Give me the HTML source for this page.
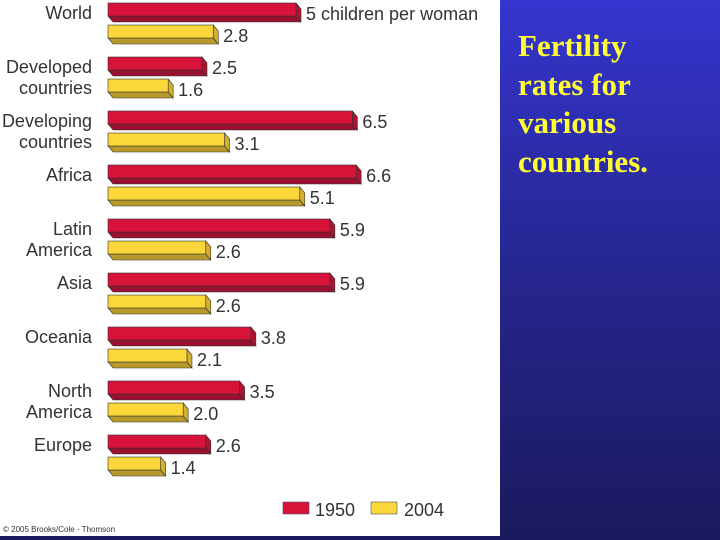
<!DOCTYPE html>
<html><head><meta charset="utf-8"><style>
body{margin:0;width:720px;height:540px;overflow:hidden;background:linear-gradient(#3535cf,#262690 50%,#1a1a5e);font-family:"Liberation Sans",sans-serif}
#panel{position:absolute;left:0;top:0;width:500px;height:536px;background:#fff}
#bottom{position:absolute;left:0;top:536px;width:720px;height:4px;background:#1a1a5e}
#title{position:absolute;left:518px;top:27px;font-family:"Liberation Serif",serif;font-weight:bold;font-size:31px;line-height:38.5px;color:#ffff33}
</style></head><body>
<div id="panel"></div>
<div id="bottom"></div>
<div id="title">Fertility<br>rates for<br>various<br>countries.</div>
<svg id="chart" width="500" height="536" style="position:absolute;left:0;top:0"></svg>
<script>
const categories=[["World"],["Developed","countries"],["Developing","countries"],["Africa"],["Latin","America"],["Asia"],["Oceania"],["North","America"],["Europe"]];
const values1950=[5.0,2.5,6.5,6.6,5.9,5.9,3.8,3.5,2.6];
const values2004=[2.8,1.6,3.1,5.1,2.6,2.6,2.1,2.0,1.4];
const labels1950=["5 children per woman","2.5","6.5","6.6","5.9","5.9","3.8","3.5","2.6"];
const labels2004=["2.8","1.6","3.1","5.1","2.6","2.6","2.1","2.0","1.4"];
const svg=document.getElementById('chart');const NS="http://www.w3.org/2000/svg";
const x0=108,k=37.6;const xs=v=>x0+v*k;const ys=i=>3+i*54;
function el(t,a,p){const e=document.createElementNS(NS,t);for(const q in a)e.setAttribute(q,a[q]);(p||svg).appendChild(e);return e;}
function bar(y,v,front,dark,side,name){
 const g=el('g',{});
 
 
 const x1=xs(v);
 el('polygon',{points:`${x0},${y+13} ${x1},${y+13} ${x1+5},${y+19} ${x0+5},${y+19}`,fill:dark,stroke:'#333','stroke-width':0.6},g);
 el('polygon',{points:`${x1},${y} ${x1+5},${y+6} ${x1+5},${y+19} ${x1},${y+13}`,fill:side,stroke:'#333','stroke-width':0.6},g);
 el('rect',{x:x0,y:y,width:x1-x0,height:13,fill:front,stroke:'#333','stroke-width':0.6},g);
}
function txt(x,y,s,anchor,name,size){const t=el('text',{x:x,y:y,'font-size':size||18,fill:'#333','text-anchor':anchor||'start','font-family':'Liberation Sans, sans-serif'});t.textContent=s;
 
 return t;}
categories.forEach((c,i)=>{
 const y=ys(i);
 bar(y,values1950[i],'#d8133a','#9a1030','#b01232','bar-1950');
 bar(y+22,values2004[i],'#fbd73a','#b89a2a','#d4b030','bar-2004');
 txt(xs(values1950[i])+10,y+17,labels1950[i],'start','value-label-1950');
 txt(xs(values2004[i])+10,y+39,labels2004[i],'start','value-label-2004');
 if(c.length===1) txt(92,y+16,c[0],'end','category-label');
 else{txt(92,y+16,c[0],'end','category-label');txt(92,y+37,c[1],'end','category-label');}
});
const lg=el('g',{});


el('rect',{x:283,y:502,width:26,height:12,fill:'#d8133a',stroke:'#555','stroke-width':0.6},lg);
el('rect',{x:371,y:502,width:26,height:12,fill:'#fbd73a',stroke:'#555','stroke-width':0.6},lg);
txt(315,516,"1950",'start','legend-entry-1950');
txt(404,516,"2004",'start','legend-entry-2004');
txt(3,532,"© 2005 Brooks/Cole - Thomson",'start','copyright-note',8);
</script>
</body></html>
